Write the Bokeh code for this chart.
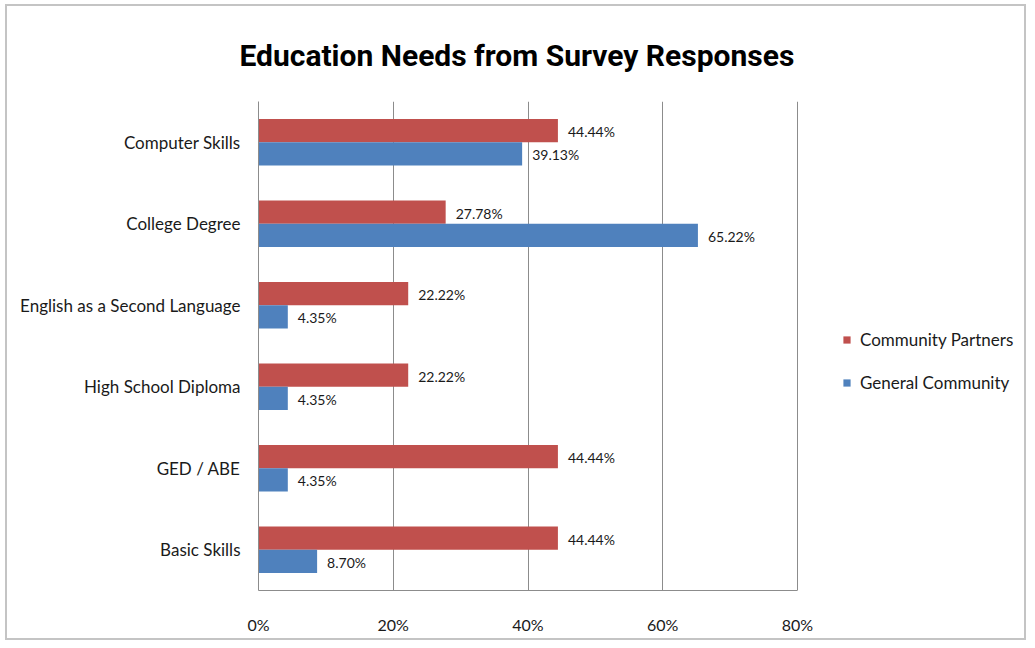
from bokeh.plotting import figure
from bokeh.models import (ColumnDataSource, FactorRange, Legend, LegendItem,
                          Title, FixedTicker, PrintfTickFormatter)
from bokeh.transform import dodge
from bokeh.core.properties import value
from bokeh.embed import file_html
from bokeh.resources import INLINE

categories = ["Computer Skills", "College Degree", "English as a Second Language",
              "High School Diploma", "GED / ABE", "Basic Skills"]
partners = [44.44, 27.78, 22.22, 22.22, 44.44, 44.44]
general = [39.13, 65.22, 4.35, 4.35, 4.35, 8.70]
x_ticks = [0, 20, 40, 60, 80]
series_names = ["Community Partners", "General Community"]

RED = "#C0504D"
BLUE = "#4F81BD"
FONT = "Lato"

src = ColumnDataSource(dict(
    cat=categories,
    partners=partners,
    general=general,
    plab=[f"{v:.2f}%" for v in partners],
    glab=[f"{v:.2f}%" for v in general],
))

# layout (pixels)
W, H = 1021, 636
LEFT, TOP, BOTTOM, RIGHT_PAD = 251, 94, 52, 10
AXIS_W = 539                      # pixel width of the 0..80 % span
frame_w = W - LEFT - RIGHT_PAD
x_end = x_ticks[-1] * frame_w / AXIS_W   # extend frame so legend fits inside

p = figure(width=W, height=H, output_backend="svg", toolbar_location=None,
           y_range=FactorRange(factors=categories[::-1]),
           x_range=(0, x_end),
           min_border_left=LEFT, min_border_right=RIGHT_PAD,
           min_border_top=TOP, min_border_bottom=BOTTOM)
p.styles = {"border": "2px solid #c4c4c4", "margin-left": "5px", "margin-top": "4px"}

p.title = Title(text="Education Needs from Survey Responses", align="left",
                text_font="Roboto", text_font_size="30px",
                text_font_style="bold", text_color="#000000", standoff=58,
                offset=-19)

bh = 0.285
r1 = p.hbar(y=dodge("cat", bh / 2, range=p.y_range), right="partners", left=0,
            height=bh, source=src, fill_color=RED, line_color=None)
r2 = p.hbar(y=dodge("cat", -bh / 2, range=p.y_range), right="general", left=0,
            height=bh, source=src, fill_color=BLUE, line_color=None)

p.text(x="partners", y=dodge("cat", bh / 2, range=p.y_range), text="plab", source=src,
       x_offset=10, y_offset=1, text_baseline="middle", text_align="left",
       text_font=value(FONT), text_font_size="14px", text_color="#1a1a1a")
p.text(x="general", y=dodge("cat", -bh / 2, range=p.y_range), text="glab", source=src,
       x_offset=10, y_offset=1, text_baseline="middle", text_align="left",
       text_font=value(FONT), text_font_size="14px", text_color="#1a1a1a")

# axes
p.xaxis.ticker = FixedTicker(ticks=x_ticks)
p.xaxis.bounds = (x_ticks[0], x_ticks[-1])
p.xaxis.formatter = PrintfTickFormatter(format="%d%%")
p.xaxis.major_tick_line_color = None
p.xaxis.minor_tick_line_color = None
p.xaxis.axis_line_color = "#8c8c8c"
p.xaxis.major_label_standoff = 18
p.xaxis.major_label_text_font = FONT
p.xaxis.major_label_text_font_size = "16px"
p.xaxis.major_label_text_color = "#1a1a1a"

p.yaxis.major_tick_line_color = None
p.yaxis.minor_tick_line_color = None
p.yaxis.axis_line_color = "#8c8c8c"
p.yaxis.major_label_standoff = 12
p.yaxis.major_label_text_font = FONT
p.yaxis.major_label_text_font_size = "17px"
p.yaxis.major_label_text_color = "#1a1a1a"

p.xgrid.grid_line_color = "#8c8c8c"
p.xgrid.ticker = FixedTicker(ticks=x_ticks)
p.xgrid.bounds = (x_ticks[0], x_ticks[-1])
p.ygrid.grid_line_color = None
p.outline_line_color = None

legend = Legend(items=[LegendItem(label=series_names[0], renderers=[r1]),
                       LegendItem(label=series_names[1], renderers=[r2])],
                location=(584, 197), orientation="vertical",
                glyph_width=9, glyph_height=9, label_height=20, spacing=22,
                label_standoff=9, padding=0, margin=0,
                border_line_color=None, background_fill_alpha=0,
                label_text_font=FONT, label_text_font_size="17px",
                label_text_color="#1a1a1a")
p.add_layout(legend, "center")

open("out.html", "w").write(file_html(p, INLINE))
